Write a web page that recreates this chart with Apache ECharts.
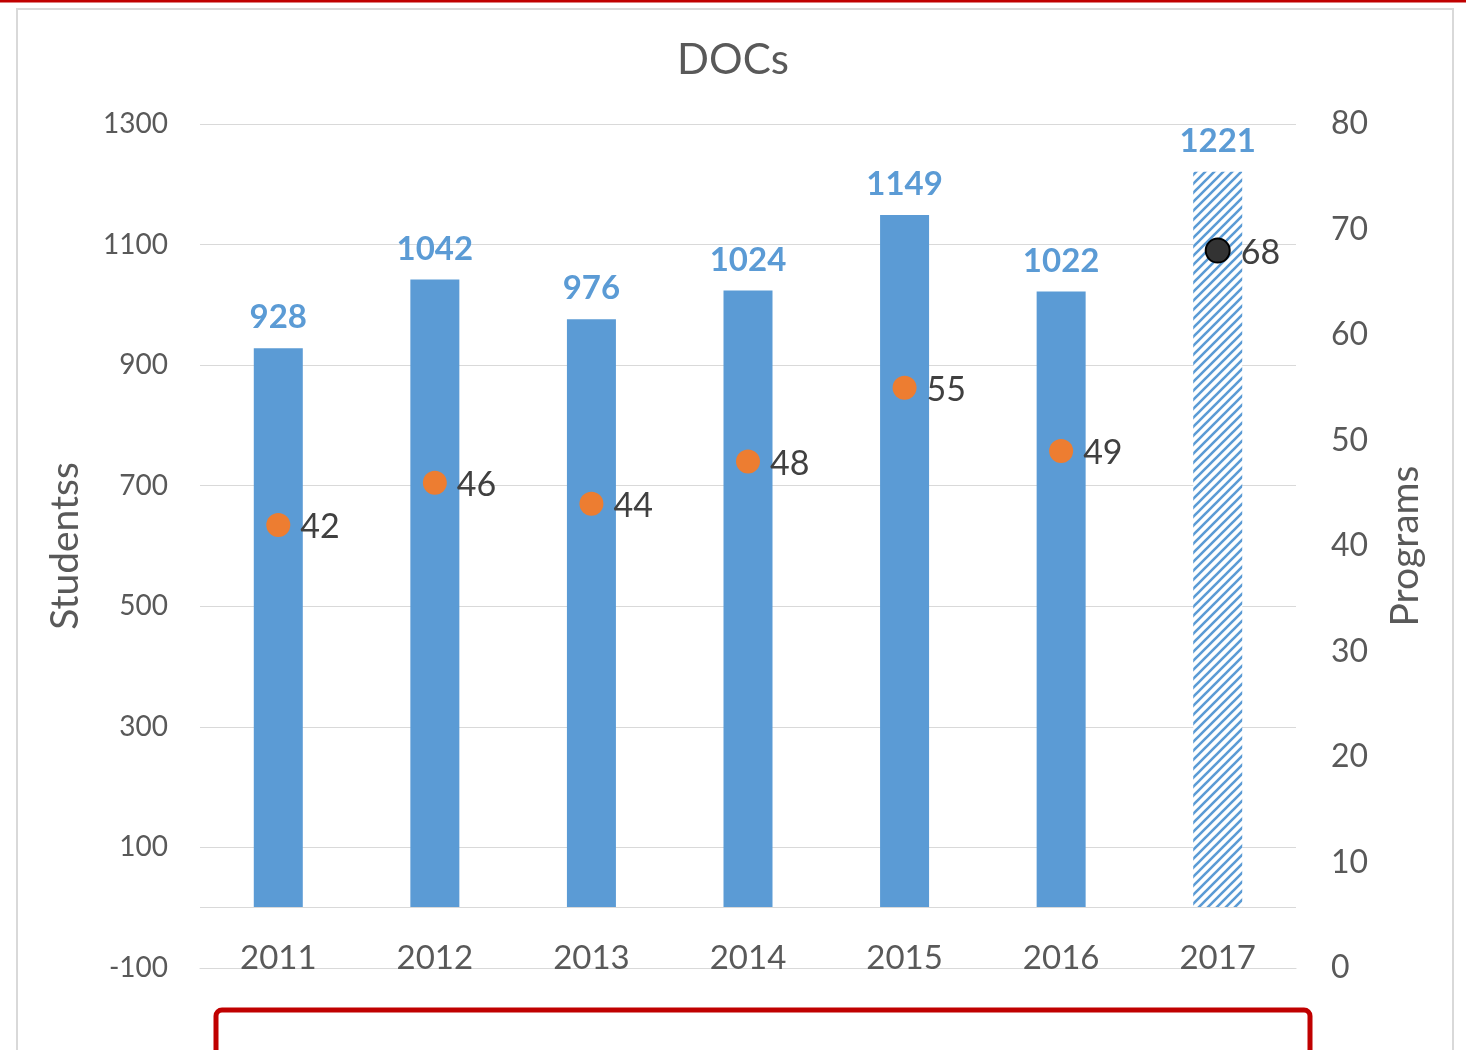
<!DOCTYPE html>
<html>
<head>
<meta charset="utf-8">
<title>DOCs</title>
<script src="https://cdn.jsdelivr.net/npm/echarts@6/dist/echarts.min.js"></script>
<style>
  html, body { margin: 0; padding: 0; background: #fff; }
  #chart { width: 1466px; height: 1050px; }
</style>
</head>
<body>
<div id="chart"></div>
<script>
// data
const years = ['2011', '2012', '2013', '2014', '2015', '2016', '2017'];
const students = [928, 1042, 976, 1024, 1149, 1022, 1221];
const programs = [42, 46, 44, 48, 55, 49, 68];
const projectedIndex = 6; // 2017 is drawn hatched / dark point

const BLUE = '#5B9BD5';
const ORANGE = '#ED7D31';
const GREY_TXT = '#595959';
const GRID = '#d9d9d9';
const FONT = 'Lato, "Open Sans", sans-serif';

// hatch pattern for the 2017 bar
function hatch() {
  const c = document.createElement('canvas');
  c.width = 9; c.height = 9;
  const g = c.getContext('2d');
  g.fillStyle = '#fff';
  g.fillRect(0, 0, 9, 9);
  g.strokeStyle = BLUE;
  g.lineWidth = 2.6;
  g.beginPath();
  g.moveTo(-2, 11); g.lineTo(11, -2);
  g.moveTo(-11, 11); g.lineTo(2, -2);
  g.moveTo(7, 11); g.lineTo(20, -2);
  g.stroke();
  return c;
}

const barData = students.map((v, i) => i === projectedIndex
  ? { value: v, itemStyle: { color: { image: hatch(), repeat: 'repeat' } } }
  : v);

const dotData = programs.map((v, i) => i === projectedIndex
  ? { value: v, itemStyle: { color: '#333333', borderColor: '#000', borderWidth: 2 } }
  : v);

const chart = echarts.init(document.getElementById('chart'));

chart.setOption({
  animation: false,
  textStyle: { fontFamily: FONT },
  title: {
    text: 'DOCs',
    left: 'center',
    top: 39,
    padding: 0,
    textStyle: { fontSize: 42, fontWeight: 'normal', color: GREY_TXT, fontFamily: FONT }
  },
  grid: { left: 200, right: 170, top: 124, bottom: 82 },
  xAxis: {
    type: 'category',
    data: years,
    axisTick: { show: false },
    axisLine: { onZero: false, lineStyle: { color: GRID, width: 1.2 } },
    axisLabel: { fontSize: 33, color: GREY_TXT, margin: -26, fontFamily: FONT }
  },
  yAxis: [
    {
      type: 'value',
      min: -100, max: 1300, interval: 100,
      name: 'Studentss',
      nameLocation: 'middle',
      nameRotate: 90,
      nameGap: 115,
      nameTextStyle: { fontSize: 39, color: GREY_TXT, fontFamily: FONT },
      axisLine: { show: false },
      axisTick: { show: false },
      axisLabel: {
        fontSize: 28, color: GREY_TXT, margin: 32, fontFamily: FONT,
        formatter: v => (v % 200 === 0 ? '' : String(v))
      },
      splitLine: { lineStyle: { color: [GRID, 'rgba(0,0,0,0)'], width: 1.2 } }
    },
    {
      type: 'value',
      min: 0, max: 80, interval: 10,
      name: 'Programs',
      nameLocation: 'middle',
      nameRotate: 90,
      nameGap: 90,
      nameTextStyle: { fontSize: 39, color: GREY_TXT, fontFamily: FONT },
      axisLine: { show: false },
      axisTick: { show: false },
      axisLabel: { fontSize: 32, color: GREY_TXT, margin: 35, fontFamily: FONT },
      splitLine: { show: false }
    }
  ],
  graphic: [
    { type: 'rect', shape: { x: 0, y: 0, width: 1466, height: 2.5 }, style: { fill: '#C00000' }, silent: true },
    { type: 'rect', shape: { x: 17, y: 9, width: 1436, height: 1100 }, style: { fill: 'none', stroke: GRID, lineWidth: 2 }, silent: true },
    { type: 'rect', shape: { x: 216, y: 1010, width: 1094, height: 100, r: 6 }, style: { fill: '#fff', stroke: '#C00000', lineWidth: 5 }, silent: true }
  ],
  series: [
    {
      type: 'bar',
      data: barData,
      barWidth: 49,
      itemStyle: { color: BLUE },
      label: {
        show: true, position: 'top', distance: 14,
        color: BLUE, fontSize: 33, fontWeight: 'bold', fontFamily: FONT
      },
      // baseline at zero students
      markLine: {
        silent: true,
        symbol: 'none',
        label: { show: false },
        lineStyle: { color: GRID, width: 1.2, type: 'solid' },
        data: [{ yAxis: 0 }]
      },
      z: 2
    },
    {
      type: 'scatter',
      yAxisIndex: 1,
      data: dotData,
      symbolSize: 24,
      itemStyle: { color: ORANGE, opacity: 1 },
      label: {
        show: true, position: 'right', distance: 10, offset: [0, 2],
        color: '#404040', fontSize: 34, fontFamily: FONT
      },
      z: 3
    }
  ]
});
</script>
</body>
</html>
